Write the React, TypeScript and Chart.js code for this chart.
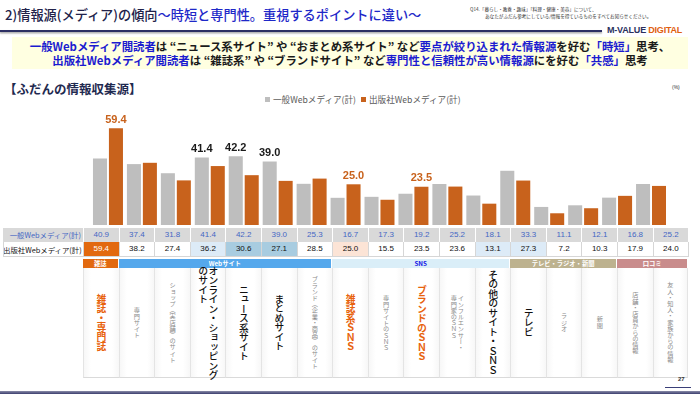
import React, { useEffect, useRef } from "react";
import { Chart, registerables } from "chart.js";
Chart.register(...registerables);

const categories = [
  "雑誌・専門誌",
  "専門サイト",
  "ショップ（実店舗）のサイト",
  "オンライン・ショッピング\nのサイト",
  "ニュース系サイト",
  "まとめサイト",
  "ブランド（企業・商品）のサイト",
  "雑誌系ＳＮＳ",
  "専門サイトのＳＮＳ",
  "ブランドのＳＮＳ",
  "インフルエンサー・\n専門家のＳＮＳ",
  "その他のサイト・ＳＮＳ",
  "テレビ",
  "ラジオ",
  "新聞",
  "店舗・店員からの情報",
  "友人・知人・家族からの情報",
];
const seriesNames = ["一般Webメディア(計)", "出版社Webメディア(計)"];
const generalValues = [40.9, 37.4, 31.8, 41.4, 42.2, 39.0, 25.3, 16.7, 17.3, 19.2, 25.2, 18.1, 33.3, 11.1, 12.1, 16.8, 25.2];
const publisherValues = [59.4, 38.2, 27.4, 36.2, 30.6, 27.1, 28.5, 25.0, 15.5, 23.5, 23.6, 13.1, 27.3, 7.2, 10.3, 17.9, 24.0];
const generalLabeled = [3, 4, 5];
const publisherLabeled = [0, 7, 9];
const groupNames = ["雑誌", "Webサイト", "SNS", "テレビ・ラジオ・新聞", "口コミ"];
const groupSpans = [1, 6, 5, 3, 2];

// styles (kept separate from data)
const labelKind = ["o", "s", "s", "b", "b", "b", "s", "o", "s", "o", "s", "b", "b", "s", "s", "s", "s"];
const pubCellBg: Record<number, string> = { 0: "#E2690F", 3: "#DDEBF7", 4: "#A8CCE0", 5: "#A8CCE0", 7: "#FCE4D6", 11: "#DDEBF7", 12: "#DDEBF7" };
const groupBg = ["#E2690F", "#55A8EC", "#DAEEF8", "#BDB28F", "#C98C8C"];
const groupFg = ["#fff", "#fff", "#1414E6", "#fff", "#fff"];

const GRAY = "#BEBEBE";
const ORANGE = "#C8621C";
const JP = "'Noto Sans CJK JP', 'Noto Sans', sans-serif";
const NUM = "'Liberation Sans', Arial, sans-serif";
const TBL_L = 83;
const COLW = 35.6;

const labelPlugin = {
  id: "valueLabels",
  afterDatasetsDraw(chart: any) {
    const ctx = chart.ctx;
    ctx.save();
    ctx.font = "bold 11px 'Liberation Sans', Arial, sans-serif";
    ctx.textAlign = "center";
    ctx.textBaseline = "bottom";
    const sets: [number, number[], string][] = [
      [0, generalLabeled, "#1a1a1a"],
      [1, publisherLabeled, ORANGE],
    ];
    for (const [di, idxs, color] of sets) {
      const meta = chart.getDatasetMeta(di);
      idxs.forEach((i) => {
        const el = meta.data[i];
        ctx.fillStyle = color;
        ctx.fillText(Number(chart.data.datasets[di].data[i]).toFixed(1), el.x, el.y - 3);
      });
    }
    ctx.restore();
  },
};

function BarChart() {
  const ref = useRef<HTMLCanvasElement>(null);
  useEffect(() => {
    const chart = new Chart(ref.current!, {
      type: "bar",
      data: {
        labels: categories,
        datasets: [
          { label: seriesNames[0], data: generalValues, backgroundColor: GRAY },
          { label: seriesNames[1], data: publisherValues, backgroundColor: ORANGE },
        ],
      },
      options: {
        animation: false,
        responsive: true,
        maintainAspectRatio: false,
        layout: { padding: 0 },
        datasets: { bar: { categoryPercentage: 0.94, barPercentage: 0.88 } },
        plugins: { legend: { display: false }, tooltip: { enabled: false } },
        scales: {
          x: { display: false },
          y: { display: false, min: 0, max: 73.7 },
        },
      },
      plugins: [labelPlugin],
    });
    return () => chart.destroy();
  }, []);
  return <canvas ref={ref} />;
}

const B = ({ children }: any) => <span style={{ color: "#1B1BD0" }}>{children}</span>;

export default function App() {
  let acc = 0;
  const groupStarts = groupSpans.map((s) => {
    const st = acc;
    acc += s;
    return st;
  });
  return (
    <div style={{ position: "fixed", left: 0, top: 0, width: 700, height: 394, background: "#fff", overflow: "hidden", fontFamily: JP }}>
      {/* Title */}
      <div style={{ position: "absolute", left: 5, top: 5, fontSize: 13.2, fontWeight: 500, whiteSpace: "nowrap", color: "#22224A", lineHeight: "20px" }}>
        2)情報源(メディア)の傾向<span style={{ color: "#1E28C8" }}>～時短と専門性。重視するポイントに違い～</span>
      </div>
      <div style={{ position: "absolute", left: 0, top: 30, width: 602, height: 2, background: "#2C2F63", boxShadow: "0 1.5px 1.5px rgba(0,0,0,0.35)" }} />
      <div style={{ position: "absolute", left: 470, top: 6, fontSize: 4.6, color: "#333", lineHeight: "6.5px", whiteSpace: "nowrap" }}>
        <div>Q14.「暮らし・教養・趣味」「料理・健康・美容」について、</div>
        <div style={{ paddingLeft: 15 }}>あなたがふだん参考にしている/情報を得ているものをすべてお知らせください。</div>
      </div>
      <div style={{ position: "absolute", left: 607, top: 25, fontSize: 9, fontWeight: 700, fontFamily: NUM, color: "#2A2F5E", whiteSpace: "nowrap", letterSpacing: -0.2 }}>
        M-VALUE <span style={{ color: "#E0600F" }}>DIGITAL</span>
      </div>

      {/* Yellow box */}
      <div style={{ position: "absolute", left: 12, top: 37, width: 676, height: 32, background: "#FFFFE1", fontSize: 11.4, fontWeight: 700, color: "#1a1a1a", textAlign: "center", lineHeight: "14px", whiteSpace: "nowrap", paddingTop: 2, boxSizing: "border-box" }}>
        <div>
          <B>一般Webメディア閲読者</B>は “ニュース系サイト” や “おまとめ系サイト” など<B>要点が絞り込まれた情報源</B>を好む<B>「時短」</B>思考、
        </div>
        <div>
          <B>出版社Webメディア閲読者</B>は “雑誌系” や “ブランドサイト” など<B>専門性と信頼性が高い情報源</B>にを好む<B>「共感」</B>思考
        </div>
      </div>

      <div style={{ position: "absolute", left: 4, top: 79, fontSize: 12.5, fontWeight: 700, color: "#1F2A50", whiteSpace: "nowrap" }}>【ふだんの情報収集源】</div>
      <div style={{ position: "absolute", left: 672, top: 84, fontSize: 5, color: "#333", fontFamily: NUM }}>(%)</div>

      {/* Legend */}
      {seriesNames.map((n, i) => (
        <div key={n} style={{ position: "absolute", left: i === 0 ? 265 : 361, top: 93, fontSize: 8.6, color: "#595959", whiteSpace: "nowrap", display: "flex", alignItems: "center", lineHeight: "12px" }}>
          <span style={{ display: "inline-block", width: 5, height: 5, background: i === 0 ? GRAY : ORANGE, marginRight: 3 }} />
          {n}
        </div>
      ))}

      {/* Chart */}
      <div style={{ position: "absolute", left: 91, top: 105, width: 577, height: 120 }}>
        <BarChart />
      </div>

      {/* Table row 1 */}
      <div style={{ position: "absolute", left: 3, top: 228, width: 685, height: 14, background: "#D9D9D9" }} />
      <div style={{ position: "absolute", left: 3, top: 228, width: 78, height: 14, fontSize: 7.4, color: "#4467C4", textAlign: "right", lineHeight: "14px", whiteSpace: "nowrap" }}>{seriesNames[0]}</div>
      <div style={{ position: "absolute", left: 3, top: 242, width: 78, height: 15, fontSize: 7.4, color: "#111", textAlign: "right", lineHeight: "15px", whiteSpace: "nowrap" }}>{seriesNames[1]}</div>
      <div style={{ position: "absolute", left: 3, top: 242, width: 684, height: 14, border: "1px solid #D6D6D6", borderTop: "none" }} />
      {generalValues.map((v, i) => (
        <div key={"g" + i} style={{ position: "absolute", left: TBL_L + i * COLW, top: 228, width: COLW, height: 14, borderLeft: "1px solid #fff", boxSizing: "border-box", fontSize: 8, fontFamily: NUM, color: "#4467C4", textAlign: "center", lineHeight: "14px" }}>
          {v.toFixed(1)}
        </div>
      ))}
      {publisherValues.map((v, i) => (
        <div key={"p" + i} style={{ position: "absolute", left: TBL_L + i * COLW, top: 242, width: COLW, height: 15, borderLeft: "1px solid #D6D6D6", borderBottom: "1px solid #D6D6D6", boxSizing: "border-box", background: pubCellBg[i] || "#fff", fontSize: 8, fontFamily: NUM, color: i === 0 ? "#fff" : "#111", textAlign: "center", lineHeight: "14px" }}>
          {v.toFixed(1)}
        </div>
      ))}

      {/* Group headers */}
      {groupNames.map((g, gi) => (
        <div key={g} style={{ position: "absolute", left: TBL_L + groupStarts[gi] * COLW, top: 259, width: groupSpans[gi] * COLW - 1, height: 9, background: groupBg[gi], color: groupFg[gi], fontSize: 6.3, fontWeight: 700, textAlign: "center", lineHeight: "9px", whiteSpace: "nowrap" }}>
          {g}
        </div>
      ))}

      {/* Category cells */}
      {categories.map((c, i) => {
        const k = labelKind[i];
        const big = k !== "s";
        return (
          <div key={"c" + i} style={{ position: "absolute", left: TBL_L + i * COLW, top: 268, width: COLW, height: 110, borderLeft: "1px solid #E4E4E4", borderRight: i === 16 ? "1px solid #E4E4E4" : "none", borderBottom: "1px solid #DADADA", boxSizing: "border-box", display: "flex", alignItems: "center", justifyContent: "center", background: "linear-gradient(90deg,#f7f7f7,#fff 20%,#fff 80%,#f7f7f7)" }}>
            <span style={{ writingMode: "vertical-rl", textOrientation: "upright", whiteSpace: "pre", fontSize: big ? 9.8 : 6.2, lineHeight: big ? 1.05 : 1.15, letterSpacing: big ? -0.3 : 0, fontWeight: k === "o" ? 700 : k === "b" ? 500 : 400, color: k === "o" ? "#E8620C" : k === "b" ? "#111" : "#8A8A8A" }}>
              {c}
            </span>
          </div>
        );
      })}

      {/* Footer */}
      <div style={{ position: "absolute", left: 678, top: 376, fontSize: 6, fontWeight: 700, fontFamily: NUM, color: "#333" }}>27</div>
      <div style={{ position: "absolute", left: 665, top: 387, width: 26, height: 1, background: "#3A3F78" }} />
      <div style={{ position: "absolute", left: 0, top: 391, width: 700, height: 3, background: "linear-gradient(#8A8CA8,#3B3D6E)" }} />
    </div>
  );
}
